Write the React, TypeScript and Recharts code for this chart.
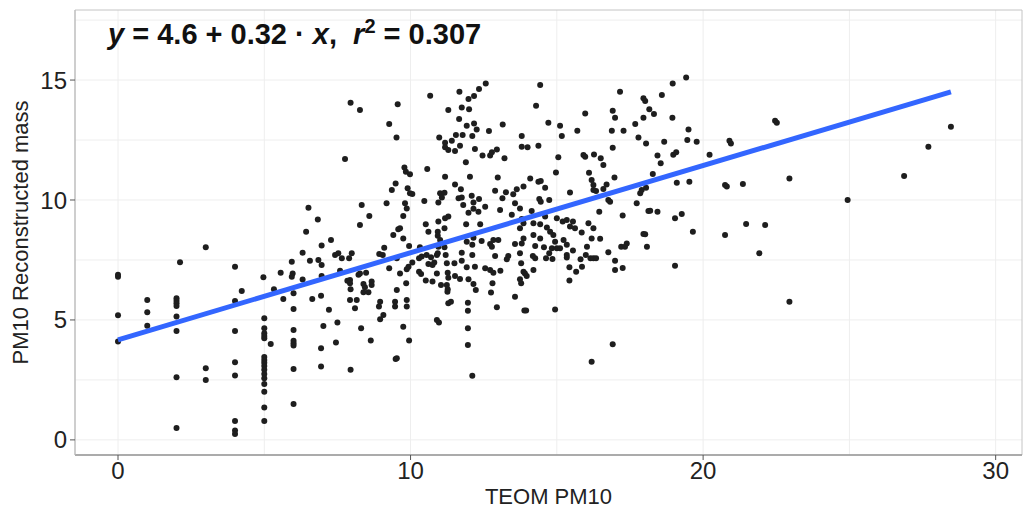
import React from 'react';
import { ScatterChart, Scatter, XAxis, YAxis, CartesianGrid, ReferenceArea } from 'recharts';

type Pt = [number, number];

// TEOM PM10 (x) against PM10 reconstructed mass (y) in strips of x
const teomBelow5: Pt[] = [
  [0, 6.8], [0, 6.88], [0, 5.2], [0, 4.1],
  [1, 5.83], [1, 5.32], [1, 4.76],
  [2, 5.9], [2, 5.8], [2, 5.7], [2, 5.58], [2, 5.14], [2, 4.54], [2, 2.61], [2, 0.5],
  [2.12, 7.4], [3, 8.03], [3, 2.99], [3, 2.5],
  [4, 7.22], [4.23, 6.21], [4, 5.79], [4, 4.54], [4, 3.24], [4, 2.68], [4, 0.79], [4, 0.39], [4, 0.25],
];

const teom5to7: Pt[] = [
  [5, 5.07], [5, 4.65], [5, 4.44], [5, 4.33], [5, 4.24], [5, 3.45], [5, 3.33], [5, 3.22],
  [5, 3.08], [5, 2.92], [5, 2.75], [5, 2.57], [5, 2.33], [5, 2.01], [5, 1.35], [5, 0.79],
  [5.22, 4.0], [5.65, 5.87],
  [6, 6.11], [6, 5.46], [6, 4.58], [6, 4.13], [6, 4.03], [6, 3.93], [6, 2.96], [6, 1.5],
  [6.64, 5.87], [6.94, 6.01], [7.02, 4.75], [6.94, 3.82], [6.94, 3.06],
  [4.97, 6.78], [5.33, 6.28], [5.56, 6.97], [5.94, 7.43], [5.97, 6.94], [5.94, 6.8], [6.31, 6.69],
  [6.31, 7.8], [6.43, 8.68], [6.51, 9.68], [6.83, 9.19], [6.56, 7.47], [6.85, 7.5], [6.96, 8.1],
  [6.96, 7.29], [6.96, 6.83],
];

const teom7to95: Pt[] = [
  [7.21, 5.42], [7.5, 4.89], [7.45, 4.06], [7.95, 2.92], [7.93, 5.83], [8.16, 5.83], [8.1, 5.49],
  [8.31, 4.65], [8.39, 6.15], [8.56, 6.15], [8.64, 4.14], [8.92, 5.56], [8.96, 5.76], [9.07, 5.21],
  [8.96, 5.03], [9.49, 3.37],
  [7.28, 8.33], [7.42, 7.71], [7.53, 7.78], [7.65, 7.57], [7.59, 7.05], [7.9, 7.57], [7.99, 7.78],
  [7.93, 6.67], [7.84, 6.63], [7.93, 6.53], [7.95, 6.28], [7.76, 11.71], [7.95, 14.05], [8.27, 13.75],
  [8.33, 9.79], [8.59, 9.33], [8.27, 8.96], [8.22, 6.88], [8.27, 6.94], [8.48, 6.97], [8.39, 6.5],
  [8.44, 6.36], [8.67, 6.6], [8.67, 6.46], [8.93, 7.75], [9.05, 7.71], [9.1, 8.01], [9.27, 7.15],
  [9.18, 9.86], [9.41, 8.54], [9.58, 8.78], [9.36, 10.42], [9.49, 10.69], [9.27, 13.17], [9.52, 12.61],
  [9.56, 13.99],
];

const teom95to14High: Pt[] = [
  [10.67, 14.35], [11.67, 14.51], [11.98, 14.21], [12.17, 14.33], [12.34, 14.63], [12.57, 14.86],
  [11.29, 13.75], [11.75, 13.86], [12.0, 13.78], [11.66, 13.38], [11.92, 13.1], [12.17, 13.19],
  [12.26, 12.94], [12.68, 12.88], [13.15, 13.15], [10.98, 12.61], [11.55, 12.71], [11.78, 12.71],
  [12.11, 12.67], [11.18, 12.39], [11.41, 12.47], [11.18, 12.2], [11.29, 12.08], [11.52, 12.04],
  [11.69, 12.26], [12.2, 12.13], [12.46, 11.85], [12.72, 11.85], [12.78, 11.99], [12.95, 12.11],
  [13.21, 11.74], [13.8, 12.67], [13.8, 12.22], [11.89, 11.57], [9.79, 11.35], [9.84, 11.18],
  [9.98, 11.07], [10.57, 11.29], [11.18, 10.97], [12.03, 10.97], [12.98, 10.94], [9.9, 10.49],
  [9.98, 10.28], [10.06, 10.25], [11.52, 10.65], [11.72, 10.45], [11.01, 10.28], [11.16, 10.3],
  [11.07, 10.1], [10.95, 9.9], [11.64, 10.07], [11.75, 10.1], [11.8, 9.79], [12.09, 10.18],
  [12.15, 9.9], [12.34, 10.04], [12.89, 10.39], [13.26, 10.32], [13.51, 10.24], [13.63, 10.45],
  [13.86, 10.56], [13.14, 10.07], [13.57, 9.86], [10.47, 9.96], [9.81, 9.86], [9.87, 9.65],
  [9.75, 9.33], [12.15, 9.63], [12.32, 9.51], [12.55, 9.72], [11.98, 9.47], [13.06, 9.58],
  [13.46, 9.38], [13.74, 9.65], [13.8, 9.21], [10.52, 8.99], [10.61, 8.68], [10.95, 9.1],
  [10.93, 8.68], [11.18, 9.24], [11.29, 9.31], [11.16, 8.82], [11.9, 8.99], [12.38, 8.99],
  [9.64, 8.82], [9.75, 8.4], [10.93, 8.51], [11.01, 8.33], [11.92, 8.26], [12.15, 8.43],
  [12.43, 8.29], [12.83, 8.33], [13.0, 8.33], [13.74, 8.82], [13.86, 8.4],
];

const teom95to14Low: Pt[] = [
  [9.95, 8.08], [9.53, 7.57], [9.64, 6.94], [9.93, 7.22], [9.87, 7.11], [10.06, 7.39], [10.32, 8.03],
  [10.29, 7.57], [10.38, 7.64], [10.55, 7.71], [10.7, 7.61], [10.9, 7.71], [10.93, 7.78], [10.29, 7.01],
  [10.36, 6.92], [10.61, 7.33], [10.75, 7.29], [10.81, 7.39], [10.9, 6.94], [10.95, 8.05], [11.16, 8.03],
  [11.2, 7.71], [10.52, 6.64], [10.75, 6.6], [9.85, 6.53], [9.53, 6.25], [11.04, 6.46], [11.24, 7.36],
  [11.5, 7.36], [11.75, 7.47], [11.75, 7.8], [12.11, 8.13], [11.27, 6.97], [11.29, 6.76], [11.52, 6.83],
  [11.69, 6.71], [11.98, 6.7], [11.24, 6.46], [11.27, 6.28], [11.26, 6.18], [11.29, 5.7], [11.38, 5.76],
  [11.92, 7.2], [12.2, 7.22], [12.11, 7.71], [12.15, 6.5], [12.23, 6.25], [12.55, 7.15], [12.72, 7.08],
  [12.83, 6.97], [13.07, 7.05], [12.89, 7.67], [13.34, 7.67], [13.29, 7.53], [12.72, 8.17], [12.78, 8.05],
  [13.57, 8.17], [13.8, 8.19], [13.74, 7.78], [13.78, 7.36], [13.86, 7.01], [13.74, 6.7], [13.78, 6.53],
  [12.8, 6.53], [12.75, 6.14], [11.96, 5.72], [11.96, 5.38], [12.95, 5.53], [13.57, 5.97], [13.89, 5.39],
  [9.87, 5.83], [9.87, 5.56], [9.47, 5.76], [9.47, 5.56], [10.9, 5.0], [10.97, 4.89], [9.75, 4.72],
  [9.95, 4.14], [9.53, 3.4], [11.96, 4.65], [11.96, 3.96], [12.11, 2.67],
];

const teom14to18: Pt[] = [
  [14.43, 14.79], [14.29, 13.93], [17.16, 14.51], [17.96, 14.24], [18.02, 14.13], [18.16, 13.78],
  [15.97, 13.61], [16.91, 13.72], [16.99, 13.43], [14.71, 13.22], [15.11, 13.1], [15.17, 12.67],
  [15.7, 12.89], [16.88, 12.89], [17.28, 12.89], [17.68, 13.17], [17.96, 13.43], [17.79, 12.61],
  [18.05, 12.36], [14.0, 12.2], [14.37, 12.26], [16.91, 12.18], [15.05, 11.78], [15.91, 11.88],
  [15.97, 11.8], [16.27, 11.9], [16.5, 11.74], [16.59, 11.46], [14.97, 11.15], [16.1, 11.14],
  [16.19, 10.83], [16.25, 10.63], [16.25, 10.42], [16.34, 10.38], [16.7, 10.65], [16.59, 10.46],
  [16.97, 10.94], [14.09, 10.9], [14.37, 10.76], [14.45, 10.79], [14.6, 10.51], [15.45, 10.31],
  [14.4, 10.04], [14.45, 9.93], [14.74, 10.0], [16.76, 10.0], [16.82, 9.93], [17.85, 10.28],
  [17.9, 10.42], [17.73, 9.86], [14.14, 9.54], [16.45, 9.51], [17.25, 9.35], [18.13, 9.54],
  [13.86, 9.03], [14.2, 9.03], [14.43, 8.99], [14.6, 9.31], [15.0, 9.24], [15.2, 9.1], [15.34, 9.17],
  [15.55, 9.1], [15.45, 8.89], [15.62, 8.82], [14.66, 8.85], [14.77, 8.68], [14.88, 8.54],
  [15.85, 8.65], [16.08, 9.03], [16.25, 8.82], [16.48, 8.38], [16.19, 8.4], [14.2, 8.54], [14.43, 8.4],
  [15.23, 8.33], [17.39, 8.19], [18.02, 8.57],
  [14.26, 8.08], [14.56, 8.03], [14.83, 7.99], [15.0, 7.99], [15.11, 7.99], [14.94, 8.26], [15.34, 8.13],
  [14.18, 7.67], [14.26, 7.57], [14.63, 7.57], [14.85, 7.54], [14.74, 7.78], [15.34, 7.71], [15.34, 7.6],
  [15.55, 7.89], [16.03, 8.05], [15.99, 7.71], [15.81, 7.53], [15.86, 7.22], [16.15, 7.57], [16.25, 7.57],
  [16.34, 7.57], [15.43, 7.2], [15.66, 7.01], [15.43, 6.64], [16.76, 7.82], [16.99, 7.47], [16.99, 7.08],
  [17.2, 8.05], [17.33, 8.05], [17.25, 7.17], [18.08, 8.05], [13.91, 6.94], [13.97, 6.83], [14.2, 7.08],
  [13.95, 5.39], [14.94, 5.44], [16.91, 3.99], [16.19, 3.26],
];

const teomAbove18: Pt[] = [
  [19.42, 15.11], [18.96, 14.86], [18.59, 14.38], [18.32, 13.58], [18.95, 13.43], [19.5, 12.94],
  [18.67, 12.43], [19.46, 12.5], [19.78, 12.43], [20.9, 12.47], [20.95, 12.36], [22.46, 13.3],
  [22.52, 13.22], [18.44, 11.85], [18.55, 11.53], [18.98, 11.89], [19.08, 11.99], [20.22, 11.89],
  [18.28, 11.08], [22.95, 10.9], [18.05, 10.51], [19.1, 10.72], [19.53, 10.76], [20.75, 10.63],
  [20.81, 10.56], [21.36, 10.67], [18.19, 9.55], [18.44, 9.51], [19.04, 9.24], [19.27, 9.42],
  [17.96, 8.58], [19.65, 8.68], [20.75, 8.54], [21.47, 9.0], [22.12, 8.96], [21.92, 7.78],
  [19.04, 7.26], [22.95, 5.76], [24.94, 10.0], [26.87, 11.0], [27.7, 12.22], [28.47, 13.05],
];

// fitted line as drawn: ends at the smallest and largest x
const fitLine = [
  { x: 0, y: 4.17 },
  { x: 28.47, y: 14.51 },
];

const xTicks = [0, 10, 20, 30];
const yTicks = [0, 5, 10, 15];
const xGrid = [0, 5, 10, 15, 20, 25, 30];
const yGrid = [0, 2.5, 5, 7.5, 10, 12.5, 15, 17.5];
const xDomain: [number, number] = [-1.47, 30.9];
const yDomain: [number, number] = [-0.63, 17.92];

const points = [
  ...teomBelow5,
  ...teom5to7,
  ...teom7to95,
  ...teom95to14High,
  ...teom95to14Low,
  ...teom14to18,
  ...teomAbove18,
].map(([x, y]) => ({ x, y }));

const font = 'Liberation Sans, Arial, Helvetica, sans-serif';
const tickStyle = { fill: '#222', fontSize: 24, fontFamily: font };

const dot = (p: any) => <circle cx={p.cx} cy={p.cy} r={3} fill="#1e1e1e" />;

export default function App() {
  return (
    <div style={{ position: 'absolute', left: 0, top: 0, width: 1025, height: 510, background: '#fff' }}>
      <ScatterChart width={1025} height={510} margin={{ top: 10, right: 3, left: 0, bottom: 0 }}>
        <CartesianGrid stroke="#eeeeee" horizontalValues={yGrid} verticalValues={xGrid} />
        <XAxis
          type="number"
          dataKey="x"
          domain={xDomain}
          ticks={xTicks}
          allowDataOverflow
          height={55}
          tickSize={5}
          tickMargin={2}
          tick={tickStyle}
          tickLine={{ stroke: '#555' }}
          axisLine={{ stroke: '#999', strokeWidth: 1.5 }}
          label={{ value: 'TEOM PM10', position: 'insideBottom', offset: 6, fill: '#222', fontSize: 22, fontFamily: font }}
        />
        <YAxis
          type="number"
          dataKey="y"
          domain={yDomain}
          ticks={yTicks}
          allowDataOverflow
          width={75}
          tickSize={5}
          tickMargin={3}
          tick={tickStyle}
          tickLine={{ stroke: '#555' }}
          axisLine={{ stroke: '#bbb' }}
          label={{
            value: 'PM10 Reconstructed mass',
            angle: -90,
            position: 'insideLeft',
            offset: 20,
            fill: '#222',
            fontSize: 22,
            fontFamily: font,
            style: { textAnchor: 'middle' },
          }}
        />
        <ReferenceArea x1={xDomain[0]} x2={xDomain[1]} y1={yDomain[0]} y2={yDomain[1]} fill="none" stroke="#c4c4c4" />
        <Scatter data={points} shape={dot} isAnimationActive={false} />
        <Scatter
          data={fitLine}
          line={{ stroke: '#3366ff', strokeWidth: 5 }}
          shape={() => <g />}
          isAnimationActive={false}
        />
      </ScatterChart>
      <div
        style={{
          position: 'absolute',
          left: 108,
          top: 15,
          fontFamily: font,
          fontWeight: 'bold',
          fontSize: 29,
          color: '#111',
          whiteSpace: 'nowrap',
        }}
      >
        <i>y</i> = 4.6 + 0.32 · <i>x</i>,&nbsp; <i>r</i>
        <sup style={{ fontSize: 20 }}>2</sup> = 0.307
      </div>
    </div>
  );
}
